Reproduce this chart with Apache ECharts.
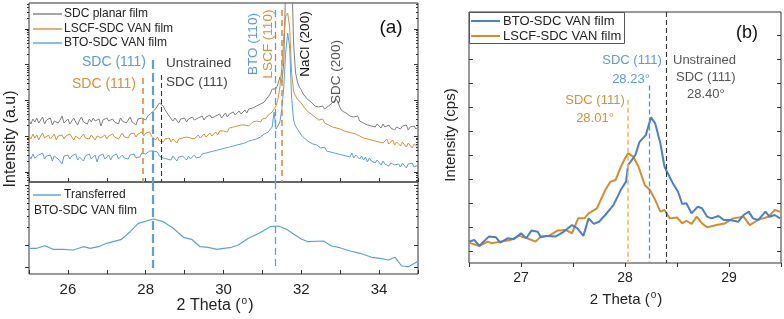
<!DOCTYPE html>
<html><head><meta charset="utf-8">
<script src="https://cdn.jsdelivr.net/npm/echarts@6/dist/echarts.min.js"></script>
<style>html,body{margin:0;padding:0;background:#fff;}#c{width:784px;height:319px;}</style>
</head><body><div id="c"></div>
<script>
// ---------- DATA ----------
// Panel (a) top: 2θ from 25.00 to 35.00, step 0.05 (log-intensity, arbitrary offset units)
const thetaStartA = 25, thetaStepA = 0.05;
const sdcPlanar = [
6.2,5.8,6.3,6.0,6.4,5.9,6.1,6.5,5.8,6.2,
6.0,6.4,5.7,6.1,6.3,5.9,6.2,6.6,5.9,6.0,
6.3,5.8,6.1,6.4,6.0,5.7,6.2,6.5,6.0,6.1,
5.8,6.3,6.0,6.4,6.1,5.9,6.3,5.6,6.2,6.0,
6.4,6.1,5.9,6.3,6.0,6.2,5.8,6.4,6.1,6.3,
5.9,6.2,6.5,6.0,6.2,5.7,6.3,6.1,6.4,6.4,
6.2,6.6,6.5,6.9,7.0,7.3,7.5,7.9,7.7,7.6,
7.2,6.9,6.6,6.5,6.1,6.4,6.2,5.9,6.3,6.1,
6.4,6.0,6.3,6.1,6.5,6.2,6.0,6.4,6.3,6.6,
6.2,6.5,6.3,6.7,6.4,6.2,6.6,6.5,6.8,6.4,
6.6,6.9,6.5,6.8,6.6,7.0,6.7,6.9,7.1,6.8,
7.0,7.2,6.9,7.3,7.1,7.4,7.3,7.6,7.5,7.8,
7.7,8.0,8.3,8.5,8.8,9.3,9.1,9.3,9.8,10.5,
10.0,12.0,20,25,25,22,14.0,11.0,10.0,9.5,
9.2,8.8,8.6,8.3,8.1,8.0,7.8,7.6,7.7,7.5,
7.4,7.6,7.3,7.5,7.6,7.7,7.9,8.1,8.3,7.9,
7.4,7.1,7.3,6.9,7.0,6.6,6.8,6.5,6.3,6.6,
6.1,6.3,5.9,6.0,5.7,5.9,5.6,5.8,5.5,5.8,
5.6,5.4,5.8,5.5,5.3,5.7,5.4,5.6,5.2,5.5,
5.5,5.3,5.6,5.4,5.7,5.2,5.5,5.4,5.6,5.3,
5.5];
const lscfVan = [
4.6,4.3,4.8,4.4,4.7,4.2,4.6,4.9,4.4,4.5,
4.7,4.3,4.5,4.8,4.2,4.6,4.4,4.7,4.3,4.6,
4.4,4.8,4.5,4.2,4.6,4.7,4.3,4.5,4.8,4.4,
4.6,4.3,4.7,4.5,4.2,4.6,4.8,4.4,4.5,4.7,
4.3,4.6,4.4,4.8,4.5,4.7,4.3,4.6,4.9,4.5,
4.7,4.4,4.8,4.6,4.9,4.5,4.8,4.7,5.0,4.6,
4.9,4.7,5.0,4.6,4.4,4.2,4.5,4.1,4.3,4.0,
4.3,4.1,4.4,4.0,4.3,4.2,3.9,4.3,4.1,4.4,
4.2,4.5,4.3,4.4,4.6,4.3,4.5,4.7,4.4,4.6,
4.8,4.5,4.7,4.9,4.6,4.8,5.0,4.7,5.1,4.9,
5.1,5.3,5.0,5.4,5.2,5.5,5.3,5.6,5.4,5.7,
5.5,5.7,5.9,5.6,5.8,6.0,5.9,6.1,6.2,6.0,
6.3,6.5,6.4,6.7,6.6,7.0,7.2,7.6,8.3,9.5,
11.5,14.5,16.6,16.9,15.5,11.0,9.1,8.6,8.3,8.1,
7.9,7.6,7.4,7.1,7.0,6.8,6.6,6.5,6.3,6.2,
6.1,6.3,5.9,6.0,5.7,5.8,5.5,5.7,5.4,5.6,
5.3,5.5,5.1,5.3,5.0,5.2,4.9,5.1,4.8,5.0,
4.6,4.8,4.4,4.6,4.3,4.5,4.2,4.4,4.1,4.3,
4.0,4.2,3.9,4.1,4.3,3.8,4.0,4.2,3.7,4.0,
3.9,3.6,4.0,3.8,3.5,3.9,3.7,3.4,3.8,3.6,
3.5];
const btoVan = [
2.6,2.3,2.8,2.4,2.2,2.7,2.5,2.9,2.3,2.6,
2.4,2.7,2.1,2.6,2.8,2.3,2.5,1.8,2.6,2.4,
2.7,2.3,2.6,2.4,2.8,2.2,2.5,2.7,2.1,2.6,
2.4,2.8,2.3,2.5,2.7,2.0,2.6,2.4,2.8,2.3,
2.5,2.7,2.2,2.6,2.4,2.8,2.3,2.5,2.7,2.4,
2.6,2.3,2.7,2.5,2.8,2.4,2.6,2.5,2.9,2.7,
2.8,3.0,3.1,3.3,3.1,2.9,3.0,2.6,2.8,2.4,
2.6,2.3,2.5,2.2,2.6,2.4,2.1,2.5,2.3,2.6,
2.4,2.2,2.6,2.3,2.5,2.7,2.4,2.6,2.5,2.8,
2.6,2.9,2.7,3.0,2.8,3.1,2.9,3.2,3.0,3.3,
3.1,3.4,3.2,3.5,3.3,3.6,3.4,3.7,3.5,3.8,
3.7,3.9,3.8,4.1,3.9,4.2,4.1,4.3,4.2,4.5,
4.6,4.8,4.7,5.0,5.1,5.5,7.0,5.3,5.6,6.0,
7.3,9.5,13.0,14.9,13.5,8.5,6.2,5.6,5.3,5.0,
4.7,4.5,4.3,4.2,4.0,3.9,3.8,3.6,3.7,3.5,
3.4,3.2,3.5,3.1,3.3,3.0,3.2,2.9,3.1,2.8,
3.0,2.7,2.9,2.6,2.8,2.5,2.9,2.4,2.7,2.5,
2.3,2.6,2.2,2.5,2.0,2.4,2.1,2.3,1.9,2.2,
2.0,1.7,2.1,1.8,2.0,1.6,1.9,2.1,1.7,1.9,
1.8,1.5,1.9,1.7,1.4,1.8,1.6,1.9,1.5,1.7,
1.7];
// Panel (a) bottom: transferred BTO-SDC VAN film
const trTheta = [25.01,25.20,25.41,25.62,25.88,26.14,26.40,26.57,26.78,27.00,27.38,27.60,27.81,28.20,28.45,28.71,28.97,29.18,29.40,29.61,29.83,30.00,30.17,30.38,30.64,30.94,31.20,31.41,31.62,31.84,32.01,32.18,32.57,32.78,32.99,33.25,33.51,33.81,34.02,34.24,34.41,34.58,34.75,34.98];
const trVal = [2.57,2.57,2.83,2.47,2.47,2.40,2.73,2.57,2.73,3.07,3.47,4.23,5.07,5.50,5.23,4.57,3.67,3.47,2.73,2.67,2.47,2.57,2.63,2.90,3.57,4.13,4.73,4.80,4.47,3.90,3.47,3.23,3.30,2.80,2.63,2.30,2.07,1.67,1.57,1.40,1.67,0.80,0.73,1.23];
// Panel (b)
const bBtoTheta = [26.50,26.55,26.60,26.69,26.76,26.80,26.87,26.93,27.00,27.05,27.10,27.16,27.19,27.25,27.33,27.41,27.49,27.54,27.60,27.65,27.70,27.75,27.81,27.89,27.96,28.01,28.03,28.10,28.14,28.20,28.25,28.29,28.34,28.38,28.42,28.46,28.51,28.55,28.59,28.64,28.70,28.74,28.79,28.83,28.90,28.95,29.01,29.09,29.14,29.19,29.23,29.28,29.35,29.39,29.44,29.49];
const bBtoVal = [0.89,0.96,0.72,1.10,1.07,0.85,1.03,0.99,1.24,1.03,1.35,1.30,1.07,1.13,1.10,1.30,1.58,1.45,1.13,1.86,1.63,1.72,2.00,2.42,3.05,3.39,4.08,4.50,5.05,5.33,6.07,5.82,4.99,4.01,3.67,3.32,2.97,2.46,2.49,2.07,2.35,2.28,1.93,1.86,1.96,1.79,1.79,1.72,2.00,2.14,1.86,1.79,2.14,1.93,2.00,1.86];
const bLscfTheta = [26.50,26.60,26.68,26.72,26.80,26.90,26.98,27.06,27.14,27.19,27.27,27.35,27.43,27.49,27.55,27.61,27.65,27.73,27.81,27.86,27.91,27.96,28.00,28.03,28.08,28.13,28.19,28.24,28.29,28.34,28.38,28.43,28.50,28.55,28.59,28.64,28.69,28.74,28.79,28.88,28.96,29.04,29.14,29.20,29.25,29.30,29.38,29.44,29.49];
const bLscfVal = [0.85,0.71,0.89,0.82,0.89,0.96,1.13,1.03,0.89,1.10,1.13,1.35,1.38,1.24,1.86,1.86,2.07,2.28,3.04,3.39,3.46,4.01,4.36,4.57,4.43,4.01,3.25,3.04,2.63,2.14,2.21,1.86,1.90,1.65,1.76,1.63,1.93,1.65,1.49,1.58,1.65,1.86,1.93,1.58,1.72,1.83,1.93,2.21,2.14];
// Reference peak positions (2θ) and how far up the dashed markers reach
const refA = [ {x:27.92, top:10.4, c:'orange'}, {x:28.18, top:12.2, c:'blueThick'}, {x:28.40, top:10.7, c:'black'}, {x:31.33, top:17.2, c:'blue'}, {x:31.49, top:17.2, c:'orange'} ];
const refAbottom = [28.18, 31.33];
const refB = [ {x:28.03, top:6.8, c:'orange'}, {x:28.23, top:7.4, c:'blue'}, {x:28.40, top:10.46, c:'black'} ];

// ---------- STYLE ----------
const FONT = 'Arial, "Liberation Sans", Helvetica, sans-serif';
const C = { gray:'#7f7f7f', orange:'#d5923a', blue:'#5aa2d6', bBlue:'#4a7fc9', bOrange:'#d38d2c',
  blueTxt:'#5b9bd5', orangeTxt:'#d39235', dark:'#444', axis:'#333' };

const chart = echarts.init(document.getElementById('c'), null, {renderer:'canvas', width:784, height:319});
const xsA = sdcPlanar.map((_, i) => +(thetaStartA + i * thetaStepA).toFixed(2));
const pair = (xs, ys) => xs.map((x, i) => [x, ys[i]]);

function logMinors(majors, decade, lo, hi) {
  const out = [];
  [majors[0] - decade].concat(majors).forEach(b => {
    for (let k = 2; k <= 9; k++) { const v = b + Math.log10(k) * decade; if (v > lo && v < hi) out.push(+v.toFixed(3)); }
  });
  return out;
}
const topMax = 17.9, botMax = 9.2, bMax = 10.46;
const majorsTop = [1.0, 4.575, 8.15, 11.725, 15.3];
const minorsTop = logMinors(majorsTop, 3.575, 0, topMax);
const majorsBot = [0.7, 2.9, 8.9];
const minorsBot = logMinors([2.9], 6.0, 3.0, botMax);
const ticksB = [0.5,1.5,2.5,3.5,4.5,5.5,6.5,7.5,8.5,9.5];

function tickAxis(grid, pos, max, vals, len, inside) {
  return { type:'value', gridIndex:grid, position:pos, min:0, max:max,
    axisLine:{show:false}, axisLabel:{show:false}, splitLine:{show:false},
    axisTick:{show:true, inside:inside, length:len, customValues:vals, lineStyle:{color:C.axis, width:1}} };
}
const dashStyle = {
  orange:{color:C.orange, width:1.6, type:[6,4]},
  blueThick:{color:C.blue, width:2.2, type:[9,4]},
  blue:{color:C.blue, width:1.3, type:[7,4]},
  black:{color:'#333', width:1.1, type:[5,3]}
};
const dashStyleB = {
  orange:{color:'#f0b870', width:1.6, type:[5,3]},
  blue:{color:'#5a8fd0', width:1.3, type:[5,3]},
  black:{color:'#333', width:1.1, type:[5,3]}
};
function vlines(list, styles) {
  return list.map(r => [{coord:[r.x, r.top], lineStyle:styles[r.c]}, {coord:[r.x, 0]}]);
}
const ml = data => ({symbol:['none','none'], silent:true, animation:false, label:{show:false}, emphasis:{disabled:true}, data:data});
const lineS = (xi, yi, data, color, width, extra) => Object.assign({type:'line', xAxisIndex:xi, yAxisIndex:yi, data:data,
  symbol:'none', showSymbol:false, silent:true, animation:false, clip:true, lineStyle:{color:color, width:width}}, extra || {});

function txt(x, y, text, color, size, align, rot, rich) {
  const el = {type:'text', x:x, y:y, silent:true, z:100,
    style:{text:text, fill:color, font:size + 'px ' + FONT, align:align || 'left', verticalAlign:'middle'}};
  if (rot) el.rotation = rot;
  if (rich) el.style.rich = rich;
  return el;
}
const seg = (x1, y1, x2, y2, color, w) => ({type:'line', silent:true, z:100, shape:{x1:x1, y1:y1, x2:x2, y2:y2}, style:{stroke:color, lineWidth:w}});
const R = Math.PI / 2;
const supRich = sz => ({s:{fontSize:sz, fontFamily:FONT, fill:'#222', padding:[0,1,9,1]}});

const option = {
  animation:false,
  backgroundColor:'#fff',
  grid:[
    {left:29, top:3, width:389, height:179, show:true, borderColor:C.axis, borderWidth:1, backgroundColor:'transparent'},
    {left:29, top:182, width:389, height:92, show:true, borderColor:C.axis, borderWidth:1, backgroundColor:'transparent'},
    {left:469, top:12, width:312, height:251, show:true, borderColor:C.axis, borderWidth:1, backgroundColor:'transparent'}
  ],
  xAxis:[
    {type:'value', gridIndex:0, min:25, max:35, interval:1, axisLine:{show:false}, axisLabel:{show:false}, splitLine:{show:false},
      axisTick:{inside:true, length:4, lineStyle:{color:C.axis}}},
    {type:'value', gridIndex:1, min:25, max:35, interval:1, axisLine:{show:false}, splitLine:{show:false},
      axisLabel:{margin:8, fontSize:15, color:'#222', fontFamily:FONT, showMinLabel:true, showMaxLabel:true,
        formatter: v => (Math.round(v) % 2 === 0 ? String(Math.round(v)) : '')},
      axisTick:{inside:true, length:4, lineStyle:{color:C.axis}}},
    {type:'value', gridIndex:2, min:26.5, max:29.5, interval:0.5, axisLine:{show:false}, splitLine:{show:false},
      axisLabel:{margin:8, fontSize:14, color:'#222', fontFamily:FONT,
        formatter: v => (Math.abs(v - Math.round(v)) < 1e-6 ? String(Math.round(v)) : '')},
      axisTick:{inside:false, length:4, lineStyle:{color:C.axis}}}
  ],
  yAxis:[
    tickAxis(0, 'left', topMax, majorsTop, 4, false),
    tickAxis(0, 'left', topMax, minorsTop, 2, false),
    tickAxis(0, 'right', topMax, majorsTop, 4, true),
    tickAxis(0, 'right', topMax, minorsTop, 2, true),
    tickAxis(1, 'left', botMax, majorsBot, 4, false),
    tickAxis(1, 'left', botMax, minorsBot, 2, false),
    tickAxis(1, 'right', botMax, majorsBot, 4, true),
    tickAxis(1, 'right', botMax, minorsBot, 2, true),
    tickAxis(2, 'left', bMax, ticksB, 4, true),
    tickAxis(2, 'right', bMax, ticksB, 4, true)
  ],
  series:[
    lineS(0, 0, pair(xsA, sdcPlanar), C.gray, 1),
    lineS(0, 0, pair(xsA, lscfVan), C.orange, 1),
    lineS(0, 0, pair(xsA, btoVan), C.blue, 1, {markLine: ml(vlines(refA, dashStyle))}),
    lineS(1, 4, pair(trTheta, trVal), C.blue, 1.2, {markLine: ml(refAbottom.map((x, i) => [{coord:[x, botMax], lineStyle: i === 0 ? dashStyle.blueThick : dashStyle.blue}, {coord:[x, 0.6]}]))}),
    lineS(2, 8, pair(bLscfTheta, bLscfVal), C.bOrange, 2, {markLine: ml(vlines(refB, dashStyleB))}),
    lineS(2, 8, pair(bBtoTheta, bBtoVal), C.bBlue, 2)
  ],
  graphic:[
    // panel (a) legend
    seg(33, 14, 62, 14, C.gray, 1.4), txt(64, 14, 'SDC planar film', '#222', 12),
    seg(33, 29, 62, 29, C.orange, 1.4), txt(64, 29, 'LSCF-SDC VAN film', '#222', 12),
    seg(33, 43, 62, 43, C.blue, 1.4), txt(64, 43, 'BTO-SDC VAN film', '#222', 12),
    // panel (a) annotations
    txt(114, 62, 'SDC (111)', C.blueTxt, 14, 'center'),
    txt(104, 84, 'SDC (111)', C.orangeTxt, 14, 'center'),
    txt(166, 63, 'Unstrained', C.dark, 13.5),
    txt(166, 82, 'SDC (111)', C.dark, 13.5),
    txt(253, 44, 'BTO (110)', C.blueTxt, 13.5, 'center', R),
    txt(268, 44, 'LSCF (110)', C.orangeTxt, 13.5, 'center', R),
    txt(305, 44, 'NaCl (200)', '#111', 13.5, 'center', R),
    txt(336, 72, 'SDC (200)', '#555', 13.5, 'center', R),
    txt(391, 28, '(a)', '#111', 19, 'center'),
    // bottom legend
    seg(33, 195, 61, 195, C.blue, 1.4), txt(64, 195, 'Transferred', '#222', 12),
    txt(34, 211, 'BTO-SDC VAN film', '#222', 12),
    // axis titles (a)
    txt(11, 139, 'Intensity (a.u)', '#222', 16, 'center', R),
    txt(215, 306, '2 Theta ({s|o})', '#222', 16, 'center', 0, supRich(10)),
    // panel (b) legend
    {type:'rect', silent:true, z:90, shape:{x:469.5, y:12.5, width:155, height:31}, style:{fill:'#fff', stroke:'#555', lineWidth:1}},
    seg(471, 21, 500, 21, C.bBlue, 2), txt(503, 21, 'BTO-SDC VAN film', '#222', 13),
    seg(471, 36, 500, 36, C.bOrange, 2), txt(503, 36, 'LSCF-SDC VAN film', '#222', 13),
    txt(747, 33, '(b)', '#111', 18, 'center'),
    // panel (b) annotations
    txt(632, 60, 'SDC (111)', C.blueTxt, 13, 'center'),
    txt(631, 79, '28.23°', C.blueTxt, 13, 'center'),
    txt(673, 60, 'Unstrained', '#555', 13),
    txt(676, 77, 'SDC (111)', '#555', 13),
    txt(687, 94, '28.40°', '#555', 13),
    txt(595, 100, 'SDC (111)', C.orangeTxt, 13, 'center'),
    txt(595, 118, '28.01°', C.orangeTxt, 13, 'center'),
    // axis titles (b)
    txt(451, 135, 'Intensity (cps)', '#222', 15, 'center', R),
    txt(626, 300, '2 Theta ({s|o})', '#222', 15, 'center', 0, supRich(10))
  ]
};
chart.setOption(option);
</script>
</body></html>
